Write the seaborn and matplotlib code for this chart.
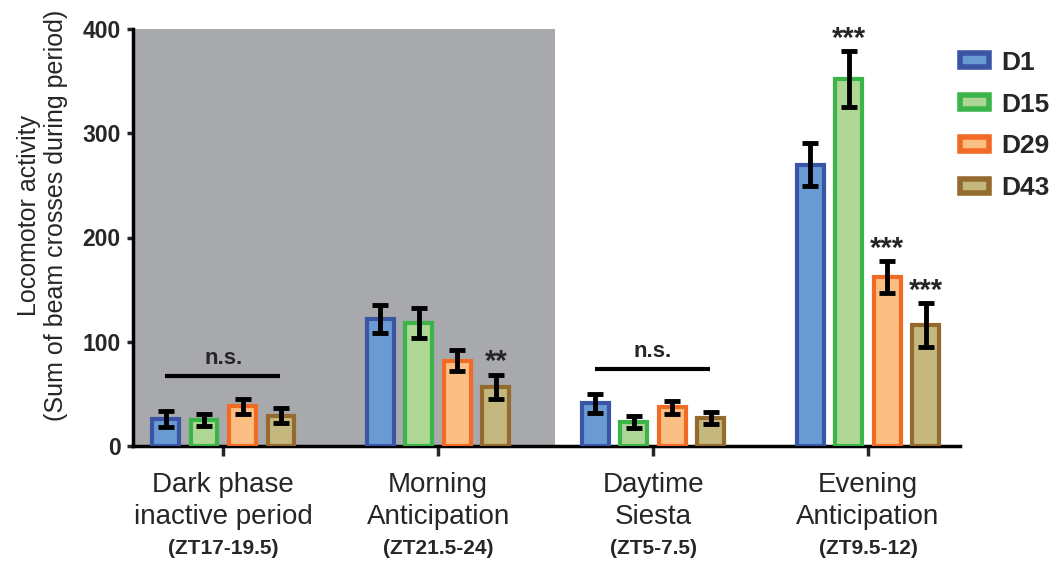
import numpy as np
import pandas as pd
import matplotlib
matplotlib.use("Agg")
import matplotlib.pyplot as plt
import matplotlib.transforms as mtransforms
from matplotlib.patches import Patch
import seaborn as sns

# ---- data ----
periods = ["Dark phase\ninactive period", "Morning\nAnticipation", "Daytime\nSiesta", "Evening\nAnticipation"]
zt_labels = ["(ZT17-19.5)", "(ZT21.5-24)", "(ZT5-7.5)", "(ZT9.5-12)"]
days = ["D1", "D15", "D29", "D43"]
d1 = [26, 122, 41, 270]
d15 = [25, 118, 23, 352]
d29 = [38, 82, 37, 162]
d43 = [29, 57, 27, 116]
d1_err = [7.5, 13.5, 9, 21]
d15_err = [6, 14, 6, 27]
d29_err = [7, 10.5, 6.5, 15]
d43_err = [7, 11.5, 5.5, 21]
star_period = [1, 3, 3, 3]
star_day = ["D43", "D15", "D29", "D43"]
star_text = ["**", "***", "***", "***"]
ns_period = [0, 2]
ns_level = [67, 74]
yticks = [0, 100, 200, 300, 400]

fills = ["#6A9AD2", "#AED795", "#FBBF84", "#C4B87F"]
edges = ["#3A55A6", "#3BB54A", "#F26B25", "#946A2E"]
grey = "#A8A9AC"

values = [d1, d15, d29, d43]
errs = [d1_err, d15_err, d29_err, d43_err]
df = pd.DataFrame({
    "period": [p for _ in days for p in periods],
    "day": [d for d in days for _ in periods],
    "value": [v for vs in values for v in vs],
})

sns.set_style("ticks")
plt.rcParams["font.family"] = ["Liberation Sans", "DejaVu Sans"]

fig = plt.figure(figsize=(10.6, 5.62), dpi=100)
ax = fig.add_axes([133 / 1060, 1 - 446 / 562, (960 - 133) / 1060, (446 - 29) / 562])

sns.barplot(data=df, x="period", y="value", hue="day", order=periods, hue_order=days,
            palette=fills, saturation=1, width=0.716, gap=0.3, errorbar=None, legend=False,
            linewidth=3, ax=ax, zorder=3)

ax.set_xlim(-0.42, 3.428)
ax.set_ylim(0, 400)
ax.axvspan(-0.42, 1.544, color=grey, zorder=0, lw=0)

bar_containers = list(ax.containers)
centers = {}
for i, cont in enumerate(bar_containers):
    xs, ys = [], []
    for j, bar in enumerate(cont):
        bar.set_edgecolor(edges[i])
        bar.set_linewidth(3)
        xs.append(bar.get_x() + bar.get_width() / 2)
        ys.append(bar.get_height())
        centers[(j, days[i])] = (xs[-1], ys[-1], errs[i][j])
    ax.errorbar(xs, ys, yerr=errs[i], fmt="none", ecolor="black", elinewidth=3.5,
                capsize=5.5, capthick=3.5, zorder=5)

# significance marks
for p, d, t in zip(star_period, star_day, star_text):
    x, y, e = centers[(p, d)]
    ax.annotate(t, (x, y + e), xytext=(0, 3), textcoords="offset points",
                ha="center", va="baseline", fontsize=21, fontweight="bold", zorder=6)

for p, lvl in zip(ns_period, ns_level):
    ax.plot([p - 0.27, p + 0.265], [lvl, lvl], color="black", lw=3, solid_capstyle="butt", zorder=6)
    ax.text(p, lvl + 7, "n.s.", ha="center", va="bottom", fontsize=16, fontweight="bold", zorder=6)

# axes styling
for s in ["top", "right"]:
    ax.spines[s].set_visible(False)
for s in ["left", "bottom"]:
    ax.spines[s].set_linewidth(2.5)
    ax.spines[s].set_color("black")

ax.set_yticks(yticks)
ax.set_yticklabels([str(v) for v in yticks], fontsize=16.5, fontweight="bold")
ax.tick_params(axis="y", length=4.5, width=2.5, pad=4.5)
ax.set_xticks(range(len(periods)))
ax.set_xticklabels(periods, fontsize=20, linespacing=1.28)
ax.tick_params(axis="x", length=7, width=2.5, pad=12)
ax.set_xlabel("")
ax.set_ylabel("Locomotor activity\n(Sum of beam crosses during period)", fontsize=18)
ax.yaxis.set_label_coords(-0.078, 0.552)

trans = mtransforms.blended_transform_factory(ax.transData, ax.transAxes)
for i, z in enumerate(zt_labels):
    ax.text(i, -0.245, z, transform=trans, ha="center", va="center", fontsize=15,
            fontweight="bold")

handles = [Patch(facecolor=fills[i], edgecolor=edges[i], linewidth=4) for i in range(4)]
fig.legend(handles, days, loc="upper left", bbox_to_anchor=(949 / 1060, 1 - 40 / 562),
           frameon=False, prop={"weight": "bold", "size": 19}, handlelength=1.13,
           handleheight=0.4, labelspacing=0.68, handletextpad=0.45, borderaxespad=0)

fig.savefig("out.png", dpi=100)
